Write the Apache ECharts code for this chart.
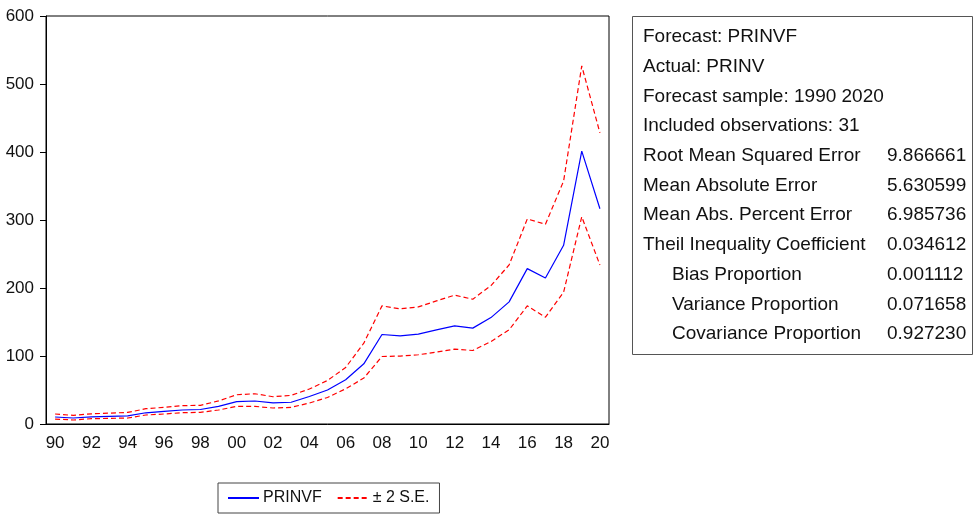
<!DOCTYPE html>
<html>
<head>
<meta charset="utf-8">
<script src="https://cdn.jsdelivr.net/npm/echarts@6/dist/echarts.min.js"></script>
<style>
  html, body { margin: 0; padding: 0; background: #fff; }
  #chart { width: 974px; height: 515px; }
</style>
</head>
<body>
<div id="chart"></div>
<script>
// years 1990 - 2020
var years = ['90', '91', '92', '93', '94', '95', '96', '97', '98', '99',
  '00', '01', '02', '03', '04', '05', '06', '07', '08', '09',
  '10', '11', '12', '13', '14', '15', '16', '17', '18', '19', '20']

var prinvf = [10.3, 8.8, 10.5, 11.3, 12.0, 16.5, 18.5, 20.6, 21.3, 26.0,
  32.8, 33.8, 31.0, 32.0, 40.5, 50.0, 65.0, 88.5, 131.6, 129.7,
  132.2, 138.5, 144.3, 141.0, 156.5, 179.6, 228.5, 214.8, 262.8, 401.3, 316.6]

var upperBand = [14.7, 12.7, 15.0, 16.0, 17.0, 22.5, 24.5, 27.0, 27.4, 34.0,
  43.0, 44.5, 40.1, 42.1, 51.4, 64.0, 83.1, 118.9, 173.7, 169.3,
  172.2, 181.0, 189.4, 183.5, 203.5, 233.9, 301.5, 293.7, 357.3, 526.6, 428.2]

var lowerBand = [7.3, 5.9, 7.8, 8.3, 8.8, 13.2, 14.7, 16.6, 17.1, 20.6,
  25.9, 25.9, 23.5, 24.5, 30.8, 39.0, 51.8, 67.5, 99.3, 99.9,
  101.8, 105.7, 110.1, 108.1, 121.3, 138.5, 173.7, 157.1, 193.8, 304.8, 233.9]

var yTicks = [0, 100, 200, 300, 400, 500, 600]

// forecast evaluation panel
var statLabels = ['Forecast: PRINVF', 'Actual: PRINV', 'Forecast sample: 1990 2020',
  'Included observations: 31', 'Root Mean Squared Error', 'Mean Absolute Error',
  'Mean Abs. Percent Error', 'Theil Inequality Coefficient', 'Bias Proportion',
  'Variance Proportion', 'Covariance Proportion']
var statValues = ['', '', '', '', '9.866661', '5.630599', '6.985736', '0.034612',
  '0.001112', '0.071658', '0.927230']
var statIndent = [0, 0, 0, 0, 0, 0, 0, 0, 1, 1, 1]

var font = "'Liberation Sans', Arial, sans-serif"

var panel = [{
  type: 'rect',
  shape: { x: 632.5, y: 16.5, width: 340, height: 338 },
  style: { fill: '#fff', stroke: '#555', lineWidth: 1 }
}]
statLabels.forEach(function (lbl, i) {
  var y = 37 + i * 29.7
  panel.push({
    type: 'text',
    x: statIndent[i] ? 672 : 643,
    y: y,
    style: { text: lbl, font: '19px ' + font, fill: '#111', verticalAlign: 'middle' }
  })
  if (statValues[i]) {
    panel.push({
      type: 'text',
      x: 887,
      y: y,
      style: { text: statValues[i], font: '19px ' + font, fill: '#111', verticalAlign: 'middle' }
    })
  }
})

var option = {
  animation: false,
  backgroundColor: '#fff',
  textStyle: { fontFamily: font },
  grid: {
    left: 46,
    top: 16,
    width: 563,
    height: 408,
    show: true,
    borderColor: '#000',
    borderWidth: 1,
    outerBoundsMode: 'none'
  },
  legend: {
    left: 218,
    top: 483,
    padding: [7, 10, 7, 9],
    borderColor: '#444',
    borderWidth: 1,
    itemWidth: 31,
    itemHeight: 14,
    itemGap: 15,
    itemStyle: { opacity: 0 },
    textStyle: { fontSize: 16, color: '#111', padding: [0, 0, 0, -1] },
    data: ['PRINVF', '± 2 S.E.']
  },
  xAxis: {
    type: 'category',
    data: years,
    boundaryGap: true,
    axisLine: { lineStyle: { color: '#000', width: 1 } },
    axisTick: { interval: 0, length: 6, lineStyle: { color: '#000' } },
    axisLabel: { interval: 1, fontSize: 17, color: '#111', margin: 11 }
  },
  yAxis: {
    type: 'value',
    min: yTicks[0],
    max: yTicks[yTicks.length - 1],
    interval: 100,
    splitLine: { show: false },
    axisLine: { show: true, lineStyle: { color: '#000', width: 1 } },
    axisTick: { show: true, length: 6, lineStyle: { color: '#000' } },
    axisLabel: { fontSize: 17, color: '#111', margin: 12 }
  },
  series: [
    {
      name: 'PRINVF',
      type: 'line',
      data: prinvf,
      symbol: 'none',
      lineStyle: { color: '#0000ff', width: 1.2 },
      itemStyle: { color: '#0000ff' }
    },
    {
      name: '± 2 S.E.',
      type: 'line',
      data: upperBand,
      symbol: 'none',
      lineStyle: { color: '#ff0000', width: 1.2, type: [5, 3] },
      itemStyle: { color: '#ff0000' }
    },
    {
      name: '± 2 S.E.',
      type: 'line',
      data: lowerBand,
      symbol: 'none',
      lineStyle: { color: '#ff0000', width: 1.2, type: [5, 3] },
      itemStyle: { color: '#ff0000' }
    }
  ],
  graphic: panel
}

var chart = echarts.init(document.getElementById('chart'))
chart.setOption(option)
</script>
</body>
</html>
